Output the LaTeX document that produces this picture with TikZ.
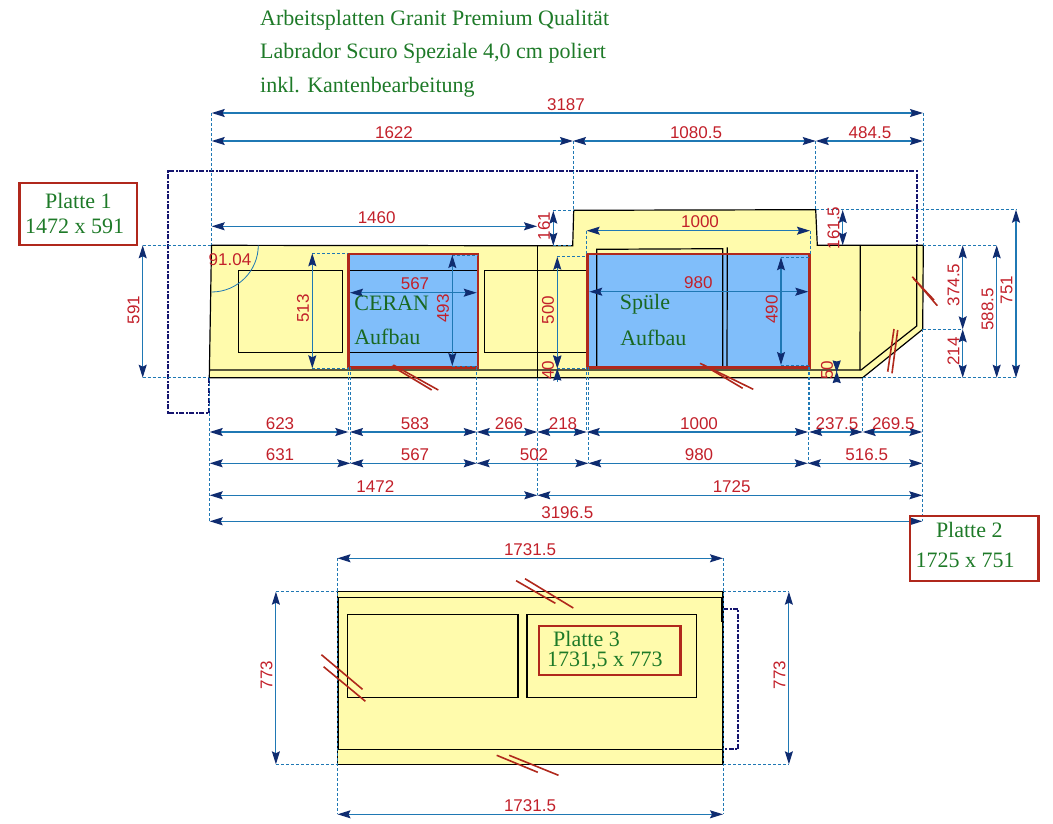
\documentclass[tikz,border=0pt]{standalone}
\usepackage{fontspec}
\setmainfont{Liberation Serif}
\setsansfont{Liberation Sans}
\usetikzlibrary{arrows.meta}

\definecolor{plate}{HTML}{FFFBAC}
\definecolor{hob}{HTML}{80BEFA}
\definecolor{framered}{HTML}{B0281C}
\definecolor{dimblue}{HTML}{1F78B4}
\definecolor{tipnavy}{HTML}{0F2C70}
\definecolor{dimred}{HTML}{C2202A}
\definecolor{textgreen}{HTML}{1E7A28}
\definecolor{outlinenavy}{HTML}{14146E}

\tikzset{
  dimline/.style={draw=dimblue,line width=1.1pt,
    {Stealth[length=13pt,width=8pt,inset=2pt,color=tipnavy]}-{Stealth[length=13pt,width=8pt,inset=2pt,color=tipnavy]}},
  dimtip/.style={draw=dimblue,line width=1.1pt,
    -{Stealth[length=12pt,width=8pt,inset=1pt,color=tipnavy]}},
  extline/.style={draw=dimblue,line width=0.8pt,dash pattern=on 3pt off 2pt},
  dimtext/.style={text=dimred,font=\sffamily\fontsize{17}{17}\selectfont,inner sep=0pt},
  edgeline/.style={draw=black,line width=1.2pt},
  outline/.style={draw=outlinenavy,line width=2pt,dash pattern=on 5pt off 1.5pt on 2pt off 1.5pt},
  hatch/.style={draw=framered,line width=1.6pt},
  tagbox/.style={draw=framered,line width=2.4pt},
  greentext/.style={text=textgreen,font=\fontsize{22}{20}\selectfont,inner sep=0pt},
  holetext/.style={text=textgreen!85!black,font=\fontsize{22}{22}\selectfont,inner sep=0pt}
}

\begin{document}
\begin{tikzpicture}[x=1pt,y=-1pt]
\useasboundingbox (0,0) rectangle (1053,824);

% title
\node[greentext,anchor=base west] (title1) at (260,25.5) {Arbeitsplatten Granit Premium Qualität};
\node[greentext,anchor=base west] (title2) at (260,59) {Labrador Scuro Speziale 4,0 cm poliert};
\node[greentext,anchor=base west] (title3) at (260,93) {inkl. Kantenbearbeitung};

% upper plates
\fill[plate] (211.5,245.3) -- (572.7,245.8) -- (573.7,210.3) -- (815.7,209.7) -- (817.3,245.3)
  -- (923.3,245.3) -- (922.7,329.3) -- (862.7,377.7) -- (209.3,377.7) -- cycle;
\fill[hob] (348.3,254) rectangle (478,367.3);
\fill[hob] (587.3,254) rectangle (809.3,367.3);

\draw[edgeline] (211.5,245.3) -- (572.7,245.8) -- (573.7,210.3) -- (815.7,209.7) -- (817.3,245.3)
  -- (923.3,245.3) -- (922.7,329.3) -- (862.7,377.7) -- (209.3,377.7) -- cycle;
\draw[edgeline] (209.3,370) -- (861,370) -- (916.7,326) -- (916.7,245.3);
\draw[edgeline] (537.3,245.3) -- (537.3,377.7);
\draw[edgeline] (238.7,270.7) rectangle (342.3,352.3);
\draw[edgeline] (350,270.7) -- (476.5,270.7) (350,352.3) -- (476.5,352.3);
\draw[edgeline] (587,270.7) -- (484.3,270.7) -- (484.3,352.3) -- (587,352.3);
\draw[edgeline] (596.7,366) -- (596.7,249.3) -- (722.7,248.7) -- (722.7,367);
\draw[edgeline] (727.3,247.3) -- (727,367);
\draw[edgeline] (860.3,245.3) -- (860,370);
\draw[tagbox] (348.3,254) rectangle (478,367.3);
\draw[tagbox] (587.3,254) rectangle (809.3,367.3);

% outline of the wall
\draw[outline] (209.3,377.7) -- (209.3,412.7) -- (167.7,412.7) -- (167.7,171) -- (916.7,171) -- (916.7,245.3);

% plate 3
\fill[plate] (337.5,591.7) rectangle (723,764.3);
\draw[edgeline] (337.5,591.7) rectangle (723,764.3);
\draw[edgeline] (338.5,749.3) -- (338.5,597.3) -- (721.7,597.3) -- (721.7,621.7);
\draw[edgeline] (338,749.3) -- (723,749.3);
\draw[edgeline] (347.5,614.3) rectangle (518,697.3);
\draw[edgeline] (526.9,614.3) rectangle (696.7,697.3);
\draw[outline] (723,609.3) -- (738.4,609.3) -- (738.4,749.3) -- (723,749.3);

% extension lines
\foreach \xa/\ya/\xb/\yb in {
  211.7/113/211.7/245, 923/113/923/245, 573/141/573/210, 815.7/141/815.7/210,
  209.7/378/209.7/521, 922.5/329/922.5/521, 537.3/378/537.3/495,
  348.6/367/348.6/432, 350.3/367/350.3/463, 476.7/367/476.7/463,
  586.7/367/586.7/432, 588.3/367/588.3/463, 808/367/808/463, 809.5/367/809.5/432,
  862.7/378/862.7/432,
  586.7/230.7/586.7/254, 810/230.7/810/254,
  142.7/245.3/211/245.3, 142.7/377.7/209/377.7,
  312.3/253.3/348/253.3, 312.3/368.3/348/368.3,
  553.3/210.7/573.7/210.7, 553.3/245.7/573/245.7,
  557.3/256.7/587/256.7, 557.3/368.3/587/368.3,
  452.3/255/478/255, 452.3/366/478/366,
  781/257.3/809/257.3, 781/365/809/365,
  815.7/209.7/1016/209.7, 923/245.3/996.7/245.3, 922.7/329.3/962.7/329.3,
  862.7/377.7/1016/377.7,
  337.5/558.3/337.5/814.3, 723/558.3/723/814.3,
  275.9/591.7/337.5/591.7, 275.9/764.3/337.5/764.3,
  723/591.7/788.9/591.7, 723/764.3/788.9/764.3}
  \draw[extline] (\xa,\ya) -- (\xb,\yb);

% horizontal dimensions
\foreach \xa/\xb/\yy/\xt/\lab [count=\i] in {
  211.7/923/113/566/3187, 211.7/573/141/394/1622, 573/815.7/141/696/1080.5, 815.7/923/141/870/484.5,
  211.7/537/226.3/376.7/1460, 586.7/810/230.7/700/1000,
  350/476.7/292.7/415/567, 589.3/808.3/291.7/698.3/980,
  209.7/348.3/432/280/623, 350/476.7/432/415/583, 476.7/537.3/432/509/266, 537.3/586.7/432/563/218,
  586.7/808/432/699/1000, 809.3/862.7/432/837/237.5, 862.7/922.3/432/893.3/269.5,
  209.7/350.3/463.3/280/631, 350.3/476.7/463.3/415/567, 476.7/588.3/463.3/534/502,
  588.3/807.7/463.3/699/980, 807.7/922.3/463.3/866.7/516.5,
  209.7/537.3/495.3/375.3/1472, 537.3/922.3/495.3/731.7/1725, 209.7/922.3/521.3/567.3/3196.5,
  337.5/723/558.3/530/1731.5, 337.5/723/814.3/530/1731.5}
{
  \draw[dimline] (\xa,\yy) -- (\xb,\yy);
  \node[dimtext] (hdim\i) at (\xt,\yy-8.7) {\lab};
}

% vertical dimensions
\foreach \xx/\ya/\yb/\yt/\lab [count=\i] in {
  142.7/245.3/377.7/310/591, 312.3/253.3/368.3/308.3/513, 452.3/255/366/308.3/493,
  553.3/210.7/245.7/226/161, 557.3/256.7/368.3/310/500, 781/257.3/365/309.3/490,
  842.7/210/245.3/228/161.5, 962.7/245.3/329.3/285/374.5, 962.7/329.3/377.7/351.7/214,
  996.7/245.3/377.7/309.3/588.5, 1016/209.7/377.7/290/751,
  275.9/591.7/764.3/675/773, 788.9/591.7/764.3/675/773}
{
  \draw[dimline] (\xx,\ya) -- (\xx,\yb);
  \node[dimtext,rotate=90] (vdim\i) at (\xx-9.3,\yt) {\lab};
}

% the two short ones
\draw[dimtip] (557.3,353) -- (557.3,368);
\draw[dimtip] (557.3,381.7) -- (557.3,368.5);
\node[dimtext,rotate=90] (vshort1) at (548,370) {40};
\draw[dimtip] (836.7,362.5) -- (836.7,372.5);
\draw[dimtip] (836.7,380.5) -- (836.7,371);
\node[dimtext,rotate=90] (vshort2) at (827,370) {50};

% corner angle
\draw[draw=dimblue,line width=0.8pt] (258.3,245.3) arc[start angle=0,end angle=90,radius=46.7];
\node[dimtext] (angle) at (230,260) {91.04};

% cut marks
\foreach \xa/\ya/\xb/\yb in {
  393.3/365/438.3/390, 391.7/366/431.7/390,
  700/363.3/753.3/389.3, 703.3/365/742.7/388.3,
  912.3/276.7/937.3/305.7, 913.3/278.3/934/300,
  894/329/887.7/371.7, 897.7/330/892/373.3,
  516.1/580.7/555.4/603.3, 525/578.7/573.3/608,
  496.7/755.3/537.8/772.3, 509.2/755.3/558.5/775.3,
  321.4/654.7/362.5/689.3, 323.6/666.7/365.4/701.3}
  \draw[hatch] (\xa,\ya) -- (\xb,\yb);

% texts on the hob and sink
\node[holetext] (ceran) at (391.7,303) {CERAN};
\node[holetext] (ceranb) at (387.3,337) {Aufbau};
\node[holetext] (spuele) at (645,304) {Spüle};
\node[holetext] (spueleb) at (653.3,338) {Aufbau};

% plate tags
\draw[tagbox] (19.6,183.3) rectangle (136.7,245);
\node[greentext] (tag1a) at (78.4,200.7) {Platte 1};
\node[greentext] (tag1b) at (74.7,226.7) {1472 x 591};
\draw[tagbox] (910,516) rectangle (1038.3,581);
\node[greentext] (tag2a) at (969.3,530) {Platte 2};
\node[greentext] (tag2b) at (965,560) {1725 x 751};
\draw[tagbox] (538.7,626) rectangle (680.6,675);
\node[greentext,align=left,anchor=west] (tag3) at (547,651) {\hspace*{6pt}Platte 3\\1731,5 x 773};
\end{tikzpicture}
\end{document}
